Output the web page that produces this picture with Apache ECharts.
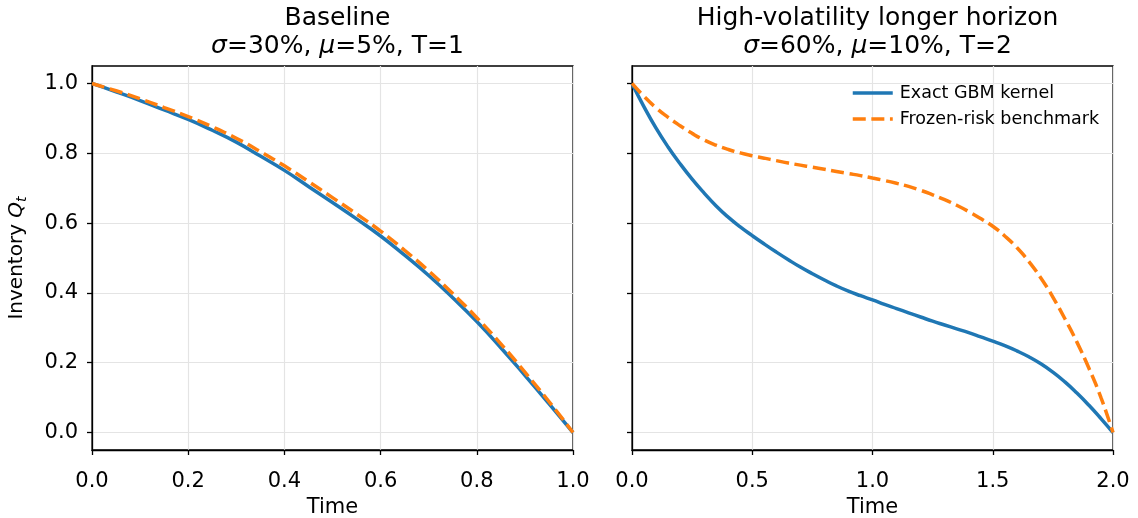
<!DOCTYPE html>
<html>
<head>
<meta charset="utf-8">
<script src="https://cdn.jsdelivr.net/npm/echarts@6/dist/echarts.min.js"></script>
<style>
html,body{margin:0;padding:0;background:#fff;}
#chart{width:1138px;height:518px;}
</style>
</head>
<body>
<div id="chart"></div>
<script>
// ---- Data ----
const timeA = [0,0.05,0.1,0.15,0.2,0.25,0.3,0.35,0.4,0.45,0.5,0.55,0.6,0.65,0.7,0.75,0.8,0.85,0.9,0.95,1.0];
const exactA = [1.000,0.976,0.951,0.924,0.897,0.866,0.832,0.792,0.751,0.705,0.659,0.612,0.563,0.508,0.450,0.386,0.318,0.243,0.164,0.083,0.000];
const frozenA = [1.000,0.979,0.956,0.931,0.905,0.876,0.843,0.805,0.764,0.719,0.673,0.626,0.577,0.522,0.463,0.398,0.329,0.254,0.173,0.089,0.000];

const timeB = [0,0.05,0.1,0.15,0.2,0.25,0.3,0.35,0.4,0.45,0.5,0.55,0.6,0.65,0.7,0.75,0.8,0.85,0.9,0.95,
               1.0,1.05,1.1,1.15,1.2,1.25,1.3,1.35,1.4,1.45,1.5,1.55,1.6,1.65,1.7,1.75,1.8,1.85,1.9,1.95,2.0];
const exactB = [1.000,0.933,0.872,0.818,0.770,0.726,0.686,0.649,0.617,0.589,0.564,0.540,0.517,0.495,0.474,0.455,0.437,0.420,0.405,0.392,
                0.380,0.367,0.355,0.343,0.331,0.319,0.308,0.297,0.286,0.274,0.262,0.249,0.234,0.217,0.197,0.173,0.145,0.113,0.078,0.040,0.000];
const frozenB = [1.000,0.963,0.930,0.903,0.879,0.857,0.838,0.823,0.811,0.801,0.793,0.786,0.779,0.772,0.766,0.760,0.754,0.748,0.742,0.736,
                 0.729,0.722,0.714,0.705,0.694,0.681,0.667,0.651,0.633,0.613,0.591,0.563,0.530,0.490,0.443,0.388,0.326,0.259,0.184,0.100,0.000];

const yTicks = [0, 0.2, 0.4, 0.6, 0.8, 1.0];
const titleA = ['Baseline', '30%', '5%', 'T=1'];
const titleB = ['High-volatility longer horizon', '60%', '10%', 'T=2'];
const seriesNames = ['Exact GBM kernel', 'Frozen-risk benchmark'];

const FONT = 'DejaVu Sans';
const BLUE = '#1f77b4', ORANGE = '#ff7f0e';
const pairs = (xs, ys) => xs.map((x, i) => [x, ys[i]]);

function mkTitle(t, cx) {
  return {
    text: '{h|' + t[0] + '}\n{i|σ}{h|=' + t[1] + ', }{i|μ}{h|=' + t[2] + ', ' + t[3] + '}',
    left: cx, top: -1, textAlign: 'center',
    textStyle: {
      fontWeight: 'normal',
      rich: {
        h: {fontFamily: FONT, fontSize: 25, color: '#000', fontWeight: 'normal', lineHeight: 28},
        i: {fontFamily: FONT, fontSize: 25, color: '#000', fontWeight: 'normal', fontStyle: 'italic', lineHeight: 28}
      }
    }
  };
}

function mkX(gi, max, interval) {
  return {
    gridIndex: gi, type: 'value', min: 0, max: max, interval: interval,
    name: 'Time', nameLocation: 'middle', nameGap: 47,
    nameTextStyle: {fontFamily: FONT, fontSize: 21, color: '#000'},
    axisLine: {show: true, onZero: false, lineStyle: {color: '#000', width: 1.3}},
    axisTick: {show: true, length: 5, lineStyle: {color: '#000', width: 1.3}},
    axisLabel: {fontFamily: FONT, fontSize: 21, color: '#000', margin: 21, showMinLabel: true, showMaxLabel: true,
      formatter: v => v.toFixed(1)},
    splitLine: {show: true, lineStyle: {color: '#e4e4e4', width: 1.2}}
  };
}

function mkY(gi, showLabels) {
  const y = {
    gridIndex: gi, type: 'value', min: -0.05, max: 1.05,
    axisLine: {show: true, onZero: false, lineStyle: {color: '#000', width: 1.3}},
    axisTick: {show: true, length: 5, customValues: yTicks, lineStyle: {color: '#000', width: 1.3}},
    axisLabel: {show: showLabels, customValues: yTicks, fontFamily: FONT, fontSize: 21, color: '#000', margin: 14,
      formatter: v => v.toFixed(1)},
    splitLine: {show: true, lineStyle: {color: '#e4e4e4', width: 1.2}}
  };
  if (showLabels) {
    y.name = '{n|Inventory }{q|Q}{s|t}';
    y.nameLocation = 'middle';
    y.nameRotate = 90;
    y.nameGap = 62;
    y.nameTextStyle = {
      rich: {
        n: {fontFamily: FONT, fontSize: 20, color: '#000', lineHeight: 26},
        q: {fontFamily: FONT, fontSize: 20, color: '#000', fontStyle: 'italic', lineHeight: 26},
        s: {fontFamily: FONT, fontSize: 14, color: '#000', fontStyle: 'italic', padding: [10, 0, 0, 0]}
      }
    };
  }
  return y;
}

function mkSeries(name, gi, data, color, dashed) {
  return {
    name: name, type: 'line', xAxisIndex: gi, yAxisIndex: gi,
    data: data, showSymbol: false, symbol: 'none', clip: false,
    smooth: 0.5,
    z: dashed ? 3 : 2,
    lineStyle: {color: color, width: 3.5, type: dashed ? [13, 5.6] : 'solid', cap: 'butt'},
    itemStyle: {color: color},
    emphasis: {disabled: true}
  };
}

const chart = echarts.init(document.getElementById('chart'), null, {renderer: 'canvas'});
chart.setOption({
  animation: false,
  backgroundColor: '#fff',
  title: [mkTitle(titleA, 332.5), mkTitle(titleB, 872.5)],
  grid: [
    {left: 92, top: 66, width: 481, height: 384, outerBoundsMode: 'none', containLabel: false,
     show: true, borderColor: '#000', borderWidth: 1.3, backgroundColor: 'transparent'},
    {left: 632, top: 66, width: 481, height: 384, outerBoundsMode: 'none', containLabel: false,
     show: true, borderColor: '#000', borderWidth: 1.3, backgroundColor: 'transparent'}
  ],
  xAxis: [mkX(0, 1, 0.2), mkX(1, 2, 0.5)],
  yAxis: [mkY(0, true), mkY(1, false)],
  legend: {
    data: seriesNames, orient: 'vertical', left: 846, top: 79,
    itemWidth: 40, itemHeight: 14, itemGap: 8,
    itemStyle: {opacity: 0, borderWidth: 0},
    lineStyle: {width: 3.5},
    textStyle: {fontFamily: FONT, fontSize: 17.5, color: '#000', padding: [0, 0, 0, 2]},
    selectedMode: false
  },
  series: [
    mkSeries(seriesNames[0], 0, pairs(timeA, exactA), BLUE, false),
    mkSeries(seriesNames[1], 0, pairs(timeA, frozenA), ORANGE, true),
    mkSeries(seriesNames[0], 1, pairs(timeB, exactB), BLUE, false),
    mkSeries(seriesNames[1], 1, pairs(timeB, frozenB), ORANGE, true)
  ]
});
</script>
</body>
</html>
